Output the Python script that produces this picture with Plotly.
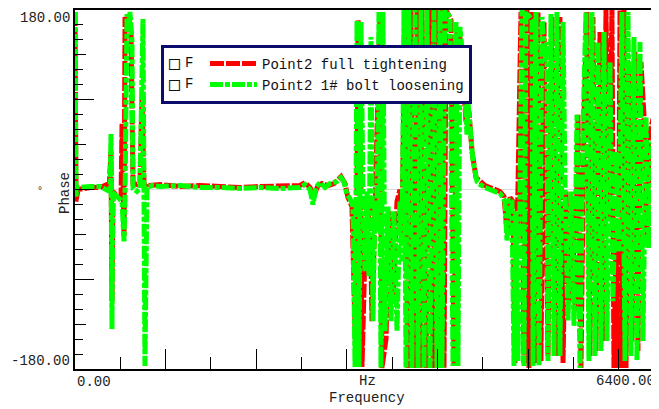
import plotly.graph_objects as go

# ---------------- data (frequency in Hz, phase in degrees) ----------------
red_freq = [0, 11, 33, 166, 276, 353, 375, 397, 408, 419,
            474, 508, 519, 530, 541, 552, 574, 596, 618, 640,
            684, 717, 739, 761, 783, 828, 938, 1159, 1379, 1600,
            1821, 2041, 2262, 2483, 2538, 2593, 2637, 2681, 2725, 2792,
            2858, 2935, 2979, 3012, 3056, 3101, 3123, 3145, 3167, 3200,
            3255, 3277, 3310, 3365, 3387, 3432, 3465, 3509, 3553, 3586,
            3608, 3641, 3674, 3707, 3741, 3774, 3807, 3829, 3873, 3928,
            3950, 3983, 4016, 4049, 4072, 4094, 4149, 4182, 4215, 4259,
            4292, 4314, 4347, 4381, 4425, 4469, 4524, 4579, 4634, 4689,
            4734, 4767, 4800, 4833, 4855, 4888, 4921, 4954, 4987, 5009,
            5043, 5076, 5109, 5142, 5175, 5219, 5263, 5307, 5351, 5385,
            5418, 5451, 5484, 5517, 5550, 5583, 5616, 5649, 5682, 5715,
            5748, 5793, 5826, 5859, 5892, 5925, 5947, 5969, 5991, 6014,
            6036, 6058, 6080, 6113, 6146, 6179, 6212, 6245, 6278, 6312,
            6345, 6378, 6400]
red_phase = [178, -12, 0, 2, 2, 5, -2, 38, -112, -2,
             -7, -8, 66, -12, -47, 173, 161, 173, 158, 6,
             5, 8, 91, 6, 2, 4, 5, 3, 4, 3,
             2, 3, 3, 4, 7, 2, -6, 4, 6, 4,
             6, 13, 6, -8, -17, -178, 170, 138, -178, -62,
             -12, -132, -22, 176, -179, -150, -22, -112, -12, 0,
             -45, 180, -179, 180, -179, 180, -179, 180, -179, 180,
             -179, 180, -179, 180, -179, 180, 170, -177, 163, 148,
             98, 68, 78, 38, 12, 8, 4, 2, 0, -2,
             -7, -42, -8, -12, -174, -12, 178, -174, 180, -179,
             178, -174, 178, -172, 168, -167, 173, -167, 173, -174,
             -2, -112, -7, -122, 75, -179, 68, 178, -167, 173,
             -162, 158, -152, 180, -29, 180, -179, -52, -179, 180,
             -179, 180, -179, 128, -152, 138, -162, 128, 75, -52,
             58, 71, 1]

green_freq = [0, 11, 22, 166, 276, 364, 386, 397, 408, 419,
              474, 519, 541, 552, 574, 596, 607, 629, 640, 684,
              717, 750, 772, 794, 850, 938, 1159, 1379, 1600, 1821,
              2041, 2262, 2483, 2538, 2593, 2626, 2659, 2703, 2759, 2814,
              2891, 2935, 2968, 3001, 3034, 3067, 3090, 3112, 3134, 3156,
              3178, 3200, 3222, 3244, 3266, 3288, 3310, 3332, 3354, 3376,
              3398, 3421, 3454, 3487, 3520, 3553, 3586, 3608, 3630, 3652,
              3685, 3718, 3752, 3785, 3818, 3851, 3884, 3917, 3961, 3994,
              4027, 4049, 4083, 4138, 4171, 4204, 4226, 4248, 4281, 4303,
              4325, 4336, 4358, 4392, 4436, 4469, 4524, 4579, 4634, 4689,
              4722, 4745, 4767, 4789, 4822, 4844, 4866, 4888, 4910, 4932,
              4954, 4976, 5043, 5054, 5087, 5120, 5153, 5186, 5208, 5219,
              5252, 5285, 5318, 5351, 5385, 5407, 5440, 5473, 5506, 5539,
              5572, 5605, 5638, 5671, 5704, 5738, 5771, 5804, 5837, 5870,
              5903, 5936, 5969, 6002, 6036, 6069, 6102, 6135, 6168, 6201,
              6234, 6267, 6300, 6334, 6367, 6400]
green_phase = [178, -7, 2, 3, 3, -1, -2, 56, -140, -3,
               -8, -12, -52, -7, 176, 158, 178, 148, 1, -2,
               1, 171, -177, 2, 4, 3, 4, 2, 2, 1,
               2, 1, 2, 5, 0, -15, 2, 7, 2, 6,
               8, 12, 8, -5, -9, -17, -178, 170, -178, 168,
               -12, -82, -2, -87, 153, -132, -12, -42, 178, -179,
               178, -142, -17, -132, -22, -142, -12, -72, 180, -179,
               180, -179, 180, -179, 180, -179, 180, -179, 180, -179,
               180, -179, 180, 173, -177, 168, -177, 163, 128, 78,
               55, 88, 58, 28, 8, 5, 2, 0, -2, -4,
               -8, -12, -52, -10, -12, -177, -22, -172, -12, 180,
               -177, 178, 170, -177, 178, -177, 173, 128, 148, -172,
               176, -167, 178, -167, 168, 3, -132, -2, -137, 75,
               -179, 58, 178, -172, 178, -167, 148, -162, 158, -152,
               128, -112, 38, -62, 178, -172, 178, -167, 153, -172,
               148, -152, 73, -59, 48, 8]

series_names = ["Point2 full tightening", "Point2 1# bolt loosening"]
y_tick_labels = ["180.00", "-180.00"]
x_tick_labels = ["0.00", "Hz", "6400.00"]

MONO = "Liberation Mono, DejaVu Sans Mono, monospace"

fig = go.Figure()
fig.add_trace(go.Scatter(x=red_freq, y=red_phase, mode="lines", name=series_names[0],
                         line=dict(color="#ff0000", width=5, dash="14px,2px")))
fig.add_trace(go.Scatter(x=green_freq, y=green_phase, mode="lines", name=series_names[1],
                         line=dict(color="#00ff00", width=5, dash="13px,2px,5px,2px")))
# carrier for the long 90-degree ticks
fig.add_trace(go.Scatter(x=[None], y=[None], yaxis="y2", showlegend=False, hoverinfo="skip"))

# The page body has an 8px margin: the figure is sized so that it fills the
# 659x409 window with the plot area at page pixels x 75..655, y 8..369.
OFF = 8
W, H = 659 - OFF, 409 - OFF
PX0, PX1, PY0, PY1 = 75, 655, 8, 369
L, T = PX0 - OFF, PY0 - OFF
R, B = W - L - (PX1 - PX0), H - T - (PY1 - PY0)
pw, ph = PX1 - PX0, PY1 - PY0


def px(x):
    return (x - PX0) / pw


def py(y):
    return (PY1 - y) / ph


fig.update_layout(
    width=W, height=H,
    margin=dict(l=L, r=R, t=T, b=B, pad=0),
    paper_bgcolor="white", plot_bgcolor="white",
    showlegend=True,
    legend=dict(x=px(161), y=py(43), xanchor="left", yanchor="top",
                bgcolor="white", bordercolor="#0b0b6b", borderwidth=3,
                font=dict(family=MONO, size=14, color="#111"),
                indentation=41, itemwidth=47, tracegroupgap=0),
    xaxis=dict(range=[0, 6400], showgrid=False, zeroline=False, showticklabels=False,
               ticks="inside", ticklen=20, tickwidth=1, tickcolor="black",
               tick0=0, dtick=1000,
               minor=dict(ticks="inside", ticklen=12, tickwidth=1, tickcolor="black", dtick=500),
               showline=True, linecolor="black", linewidth=2, mirror=True),
    yaxis=dict(range=[-180, 180], showgrid=False, zeroline=True, zerolinecolor="#dcdcdc",
               zerolinewidth=1, showticklabels=False,
               ticks="inside", ticklen=11, tickwidth=1, tickcolor="black",
               tick0=0, dtick=45,
               minor=dict(ticks="inside", ticklen=8, tickwidth=1, tickcolor="black", dtick=15),
               showline=True, linecolor="black", linewidth=2, mirror=True),
    yaxis2=dict(range=[-180, 180], overlaying="y", side="left", showgrid=False, zeroline=False,
                showticklabels=False, ticks="inside", ticklen=19, tickwidth=1, tickcolor="black",
                tick0=0, dtick=90, showline=False),
)

ann = []
tfont = dict(family=MONO, size=14, color="#222")
ann.append(dict(text=y_tick_labels[0], x=px(72), y=py(16), xanchor="right", yanchor="middle"))
ann.append(dict(text=y_tick_labels[1], x=px(72), y=py(361), xanchor="right", yanchor="middle"))
ann.append(dict(text=x_tick_labels[0], x=px(75), y=py(382), xanchor="left", yanchor="middle"))
ann.append(dict(text=x_tick_labels[1], x=px(367), y=py(381), xanchor="center", yanchor="middle"))
ann.append(dict(text=x_tick_labels[2], x=px(657), y=py(381), xanchor="right", yanchor="middle"))
ann.append(dict(text="Frequency", x=px(367), y=py(398), xanchor="center", yanchor="middle"))
ann.append(dict(text="Phase", x=px(65), y=py(192), xanchor="center", yanchor="middle", textangle=-90))
ann.append(dict(text="°", x=px(40), y=py(191), xanchor="center", yanchor="middle",
                font=dict(family=MONO, size=10, color="#222")))
for row_y in (61, 82):
    ann.append(dict(text="□", x=px(167), y=py(row_y), xanchor="left", yanchor="middle",
                    font=dict(family="DejaVu Sans Mono, monospace", size=18, color="#111")))
    ann.append(dict(text="F", x=px(183), y=py(row_y), xanchor="left", yanchor="middle",
                    font=dict(family=MONO, size=14, color="#111")))
for a in ann:
    a.setdefault("font", tfont)
    a.update(xref="paper", yref="paper", showarrow=False)
fig.update_layout(annotations=ann)

fig.write_html("out.html")
